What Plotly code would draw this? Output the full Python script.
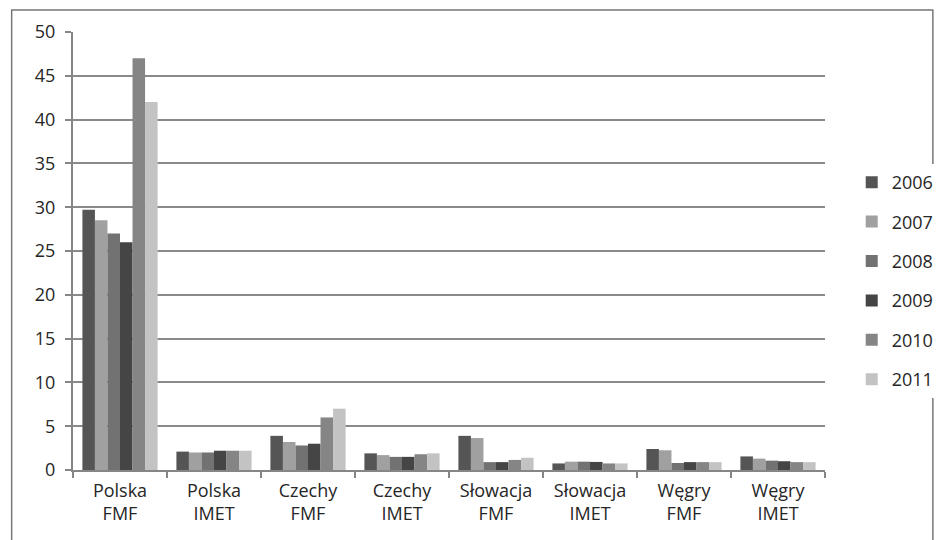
import plotly.graph_objects as go

categories = ["Polska<br>FMF", "Polska<br>IMET", "Czechy<br>FMF", "Czechy<br>IMET",
              "Słowacja<br>FMF", "Słowacja<br>IMET", "Węgry<br>FMF", "Węgry<br>IMET"]
years = ["2006", "2007", "2008", "2009", "2010", "2011"]

v2006 = [29.7, 2.1, 3.9, 1.9, 3.9, 0.75, 2.4, 1.55]
v2007 = [28.5, 2.0, 3.2, 1.7, 3.65, 0.95, 2.25, 1.3]
v2008 = [27.0, 2.0, 2.8, 1.5, 0.9, 0.95, 0.8, 1.07]
v2009 = [26.0, 2.2, 3.0, 1.5, 0.9, 0.92, 0.9, 1.0]
v2010 = [47.0, 2.2, 6.0, 1.8, 1.15, 0.75, 0.9, 0.9]
v2011 = [42.0, 2.2, 7.0, 1.9, 1.4, 0.75, 0.9, 0.9]

series = [v2006, v2007, v2008, v2009, v2010, v2011]
colors = ["#555555", "#a0a0a0", "#727272", "#454545", "#858585", "#c3c3c3"]

fig = go.Figure()
for i, (yr, vals) in enumerate(zip(years, series)):
    fig.add_trace(go.Bar(
        x=categories, y=vals, name=yr,
        marker=dict(color=colors[i], line=dict(width=0)),
        legendgroup=yr,
    ))

font = "Open Sans, Liberation Sans, sans-serif"
OFF = 8  # page body margin
W, H = 943, 540
L = 73 - OFF
T = 32 - OFF
R = W - (833 - OFF)
B = H - (470 - OFF)
pw, ph = W - L - R, H - T - B

def px_x(p):
    return (p - OFF - L) / pw

def px_y(p):
    return (H - B - (p - OFF)) / ph

fig.update_layout(
    width=W, height=H,
    margin=dict(l=L, r=R, t=T, b=B),
    barmode="group", bargap=0.2, bargroupgap=0,
    plot_bgcolor="white", paper_bgcolor="white",
    font=dict(family=font, size=18, color="#262626"),
    legend=dict(x=px_x(860), y=px_y(281), yanchor="middle", xanchor="left",
                tracegroupgap=13, font=dict(size=18),
                itemwidth=30),
    showlegend=True,
    xaxis=dict(showline=True, linecolor="#868686", linewidth=2,
               ticks="outside", tickson="boundaries", ticklen=6,
               tickcolor="#868686", tickwidth=1.5,
               tickfont=dict(size=18), showgrid=False, ticklabelstandoff=3),
    yaxis=dict(range=[0, 50], dtick=5, showline=True, linecolor="#868686",
               linewidth=2, ticks="outside", ticklen=6, tickcolor="#868686",
               tickwidth=1.5, gridcolor="#8a8a8a", gridwidth=1.5,
               tickfont=dict(size=18), zeroline=False, ticklabelstandoff=6),
    shapes=[dict(type="rect", xref="paper", yref="paper",
                 x0=px_x(11), x1=px_x(942), y0=px_y(560), y1=px_y(10),
                 line=dict(color="#777777", width=1.5), layer="below")],
)

fig.write_html("out.html")
